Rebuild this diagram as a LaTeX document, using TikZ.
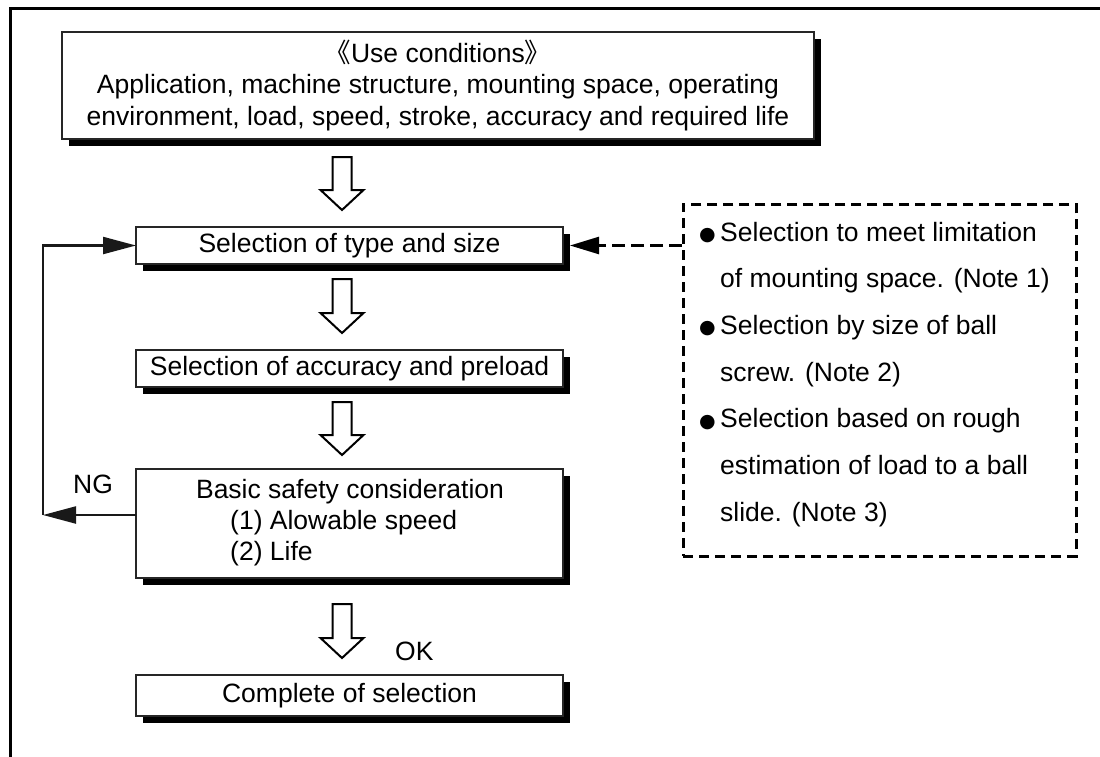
\documentclass[tikz,border=0pt]{standalone}
\usepackage{fontspec}
\setmainfont{Liberation Sans}
\newfontfamily\cjkfont{Noto Sans CJK SC}
\newfontfamily\symfont{DejaVu Sans}
\usetikzlibrary{arrows.meta,shadows,calc}
\newcommand\harrow[2]{\draw[hollow] let \p1=(#1), \p2=(#2) in
  (\x1-9.5pt,\y1) -- (\x1+9.5pt,\y1) -- (\x1+9.5pt,\y2+20pt) -- (\x1+21.5pt,\y2+20pt)
  -- (\x1,\y2) -- (\x1-21.5pt,\y2+20pt) -- (\x1-9.5pt,\y2+20pt) -- cycle;}
\newcommand\bul{\makebox[21pt][l]{\raisebox{0.5pt}{\symfont\fontsize{19}{19}\selectfont ●}}}
\begin{document}
\begin{tikzpicture}[x=1pt,y=-1pt,
  font=\fontsize{26.5}{31.5}\selectfont,
  box/.style={draw=black!85, line width=1.2pt, fill=white, inner sep=0pt, outer sep=0pt, anchor=north west,
     drop shadow={shadow xshift=6.5pt, shadow yshift=-6.5pt, fill=black, opacity=1}},
  hollow/.style={draw=black, line width=2pt, fill=white, line join=miter},
  fb/.style={line width=2.2pt, draw=black!90},
  tip/.style={-{Triangle[length=33pt,width=17pt]}},
  dtip/.style={-{Triangle[length=29pt,width=17pt]}},
  dashbox/.style={draw, line width=2.5pt, dash pattern=on 10pt off 6pt},
  dashline/.style={line width=2.5pt, dash pattern=on 13pt off 6pt},
]
\useasboundingbox (0,0) rectangle (1100,756);
\fill[white] (0,0) rectangle (1100,756);
% frame
\draw[line width=3pt] (10,760) -- (10,8) -- (1104,8);

% boxes
\node[box, minimum width=752, minimum height=107, align=center] (use) at (62,32)
  {{\cjkfont 《}Use conditions{\cjkfont 》}\\Application, machine structure, mounting space, operating\\environment, load, speed, stroke, accuracy and required life};
\node[box, minimum width=427, minimum height=37] (type) at (136,227) {Selection of type and size};
\node[box, minimum width=427, minimum height=37] (acc) at (136,350) {Selection of accuracy and preload};
\node[box, minimum width=427, minimum height=109] (safe) at (136,469) {};
\node[anchor=base, inner sep=0pt] (safeT) at (350,498) {Basic safety consideration};
\node[anchor=base west, inner sep=0pt] (safe1) at (230,529) {(1) Alowable speed};
\node[anchor=base west, inner sep=0pt] (safe2) at (230,560) {(2) Life};
\node[box, minimum width=427, minimum height=41] (done) at (136,675) {Complete of selection};

% hollow arrows
\coordinate (a1s) at (342,157); \coordinate (a1e) at (342,210);
\coordinate (a2s) at (342,279); \coordinate (a2e) at (342,333);
\coordinate (a3s) at (342,402); \coordinate (a3e) at (342,455);
\coordinate (a4s) at (342,604); \coordinate (a4e) at (342,658);
\harrow{a1s}{a1e}
\harrow{a2s}{a2e}
\harrow{a3s}{a3e}
\harrow{a4s}{a4e}
\node[anchor=base west, inner sep=0pt] (ok) at (395,660) {OK};

% feedback NG
\coordinate (ngL) at (43,515);
\draw[fb, tip] (safe.west |- ngL) -- (ngL);
\draw[fb, tip] (ngL) |- (type.west);
\node[anchor=base, inner sep=0pt] (ng) at (93,493) {NG};

% notes
\node[dashbox, minimum width=393, minimum height=352, anchor=north west, inner sep=0pt] (notes) at (682,203) {};
\node[anchor=base west, inner sep=0pt, font=\fontsize{26.5}{46.67}\selectfont] (notetext) at (699,241)
 {\begin{tabular}[t]{@{}l@{}}
 \bul Selection to meet limitation\\
 \hspace*{21pt}of mounting space. (Note 1)\\
 \bul Selection by size of ball\\
 \hspace*{21pt}screw. (Note 2)\\
 \bul Selection based on rough\\
 \hspace*{21pt}estimation of load to a ball\\
 \hspace*{21pt}slide. (Note 3)
 \end{tabular}};
\draw[dashline, dtip] (notes.west |- type.east) -- ($(type.east)+(7,0)$);
\end{tikzpicture}
\end{document}
